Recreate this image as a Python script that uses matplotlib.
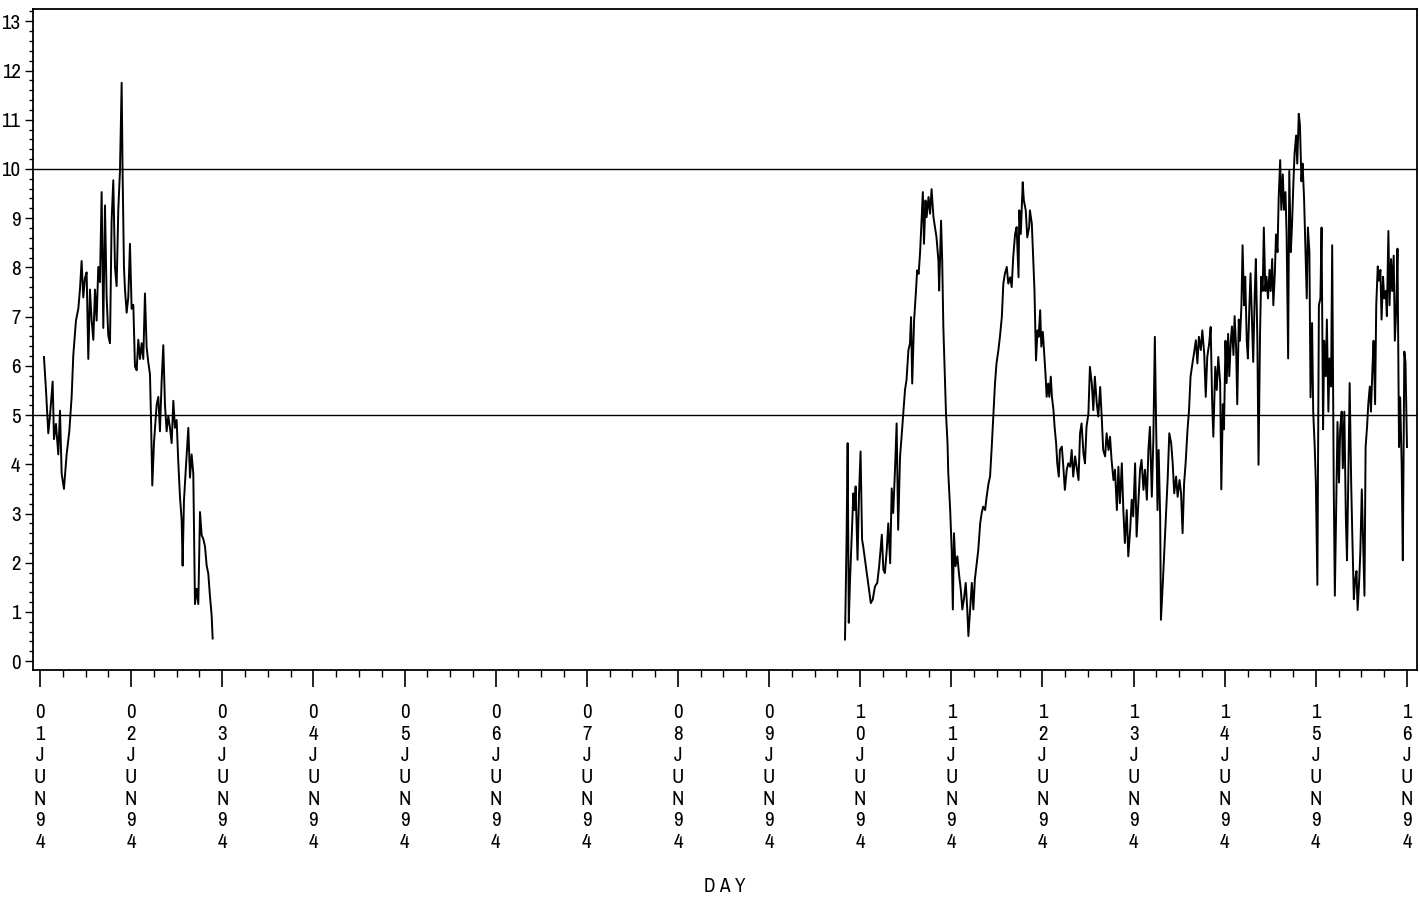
import numpy as np
import matplotlib
matplotlib.use("Agg")
import matplotlib.pyplot as plt
from matplotlib import font_manager
from matplotlib.ticker import MultipleLocator, FixedLocator

# ---------------- data (hours since 01JUN94 00:00, level) ----------------
hours_a = [1.05, 1.58, 2.19, 2.63, 3.34, 3.69, 4.21, 4.83, 5.27, 5.71, 6.32, 7.02, 7.73, 8.34, 8.78,
           9.48, 10.10, 10.53, 10.97, 11.41, 11.85, 12.29, 12.73, 13.17, 13.61, 14.05, 14.49, 14.92,
           15.36, 15.80, 16.24, 16.68, 17.12, 17.56, 18.00, 18.44, 18.87, 19.31, 19.75, 20.19, 20.63,
           21.07, 21.51, 21.77, 22.12, 22.39, 22.83, 23.26, 23.70, 24.14, 24.58, 25.02, 25.46, 25.90,
           26.34, 26.78, 27.21, 27.65, 28.09, 28.53, 28.97, 29.23, 29.58, 30.02, 30.73, 31.17, 31.60,
           32.04, 32.48, 32.92, 33.36, 33.80, 34.24, 34.68, 35.12, 35.56, 35.99, 36.43, 36.87, 37.31,
           37.57, 37.92, 38.45, 39.07, 39.51, 39.94, 40.38, 40.82, 41.26, 41.70, 42.14, 42.58, 43.02,
           43.46, 43.90, 44.33, 44.77, 45.21, 45.48]
level_a = [6.18, 5.52, 4.63, 4.98, 5.68, 4.51, 4.82, 4.20, 5.09, 3.81, 3.50, 4.20, 4.67, 5.37, 6.22,
           6.92, 7.16, 7.55, 8.13, 7.39, 7.78, 7.90, 6.14, 7.55, 6.92, 6.53, 7.55, 6.92,
           8.01, 7.70, 9.53, 6.77, 9.26, 7.39, 6.61, 6.46, 8.95, 9.77, 8.01, 7.62, 9.18,
           9.96, 11.75, 9.88, 8.01, 7.55, 7.08, 7.39, 8.48, 7.16, 7.24, 5.99, 5.91, 6.53,
           6.14, 6.46, 6.14, 7.47, 6.38, 6.07, 5.83, 4.98, 3.57, 4.43, 5.21, 5.37, 4.67,
           5.68, 6.42, 5.21, 4.67, 4.98, 4.74, 4.43, 5.29, 4.74, 4.90, 4.04, 3.34, 2.87,
           1.94, 3.26, 3.96, 4.74, 3.73, 4.20, 3.81, 1.16, 1.47, 1.16, 3.03, 2.56, 2.48,
           2.33, 1.94, 1.78, 1.32, 0.93, 0.46]

hours_b = [212.0, 212.4, 212.7, 213.0, 213.3, 213.8, 214.2, 214.5, 214.8, 215.3, 215.7, 216.1, 216.5,
           216.8, 217.5, 218.1, 218.8, 219.3, 219.9, 220.5, 221.0, 221.7, 222.1, 222.5, 223.0, 223.4,
           223.9, 224.3, 224.7, 225.2, 225.6, 226.0, 226.5, 226.9, 227.4, 227.8, 228.2, 228.7, 229.1,
           229.4, 229.7, 230.2, 230.7, 231.0, 231.4, 231.8, 232.2, 232.5, 232.8, 233.2, 233.5, 234.0,
           234.4, 234.8, 235.3, 235.7, 236.1, 236.6, 236.8, 237.3, 237.6, 237.9, 238.3, 238.6, 239.0,
           239.2, 239.7, 240.1, 240.4, 240.7, 241.1, 241.6, 242.0, 242.5, 242.9, 243.3, 243.8, 244.2,
           244.5, 244.9, 245.4, 245.8, 246.2, 246.7, 247.1, 247.6, 248.0, 248.4, 248.9, 249.3, 249.8,
           250.2, 250.6, 251.1, 251.5, 251.9, 252.4, 252.8, 253.3, 253.7, 254.1, 254.6, 255.0, 255.5,
           255.9, 256.3, 256.8, 257.2, 257.7, 257.9, 258.3, 258.8, 259.1, 259.6, 260.0, 260.5]
level_b = [0.44, 2.40, 4.43, 0.78, 1.59, 2.60, 3.41, 3.07, 3.55, 2.06, 3.41, 4.26, 2.47,
           2.33, 1.93, 1.59, 1.18, 1.25, 1.52, 1.59, 1.93, 2.57, 1.86, 1.79, 2.26, 2.80,
           1.99, 3.51, 3.01, 3.95, 4.83, 2.67, 4.16, 4.56, 5.10, 5.51, 5.71, 6.32, 6.45,
           6.99, 5.64, 6.93, 7.53, 7.94, 7.87, 8.34, 9.02, 9.53, 8.48, 9.36, 9.02, 9.43,
           9.09, 9.59, 9.02, 8.82, 8.61, 8.14, 7.53, 8.95, 8.14, 6.79, 5.78, 5.03, 4.43,
           3.82, 3.07, 2.26, 1.05, 2.60, 1.93, 2.13, 1.79, 1.45, 1.05, 1.25, 1.59, 1.05,
           0.51, 0.98, 1.59, 1.05, 1.66, 1.99, 2.26, 2.80, 3.01, 3.14, 3.07, 3.34, 3.61,
           3.75, 4.29, 5.03, 5.64, 6.05, 6.32, 6.59, 6.99, 7.67, 7.87, 8.01, 7.67, 7.80,
           7.60, 8.21, 8.68, 8.82, 7.80, 9.16, 8.68, 9.73, 9.36, 9.16, 8.61, 8.82]

hours_c = [260.7, 261.2, 261.6, 261.9, 262.1, 262.3, 262.7, 263.0, 263.4, 263.7, 264.1, 264.4, 264.8,
           265.1, 265.5, 265.8, 266.2, 266.5, 266.9, 267.2, 267.6, 267.9, 268.3, 268.6, 269.1, 269.5,
           269.9, 270.4, 270.8, 271.3, 271.7, 272.1, 272.6, 273.0, 273.5, 273.9, 274.3, 274.8, 275.2,
           275.6, 276.1, 276.5, 277.0, 277.4, 277.8, 278.3, 278.7, 279.2, 279.6, 280.0, 280.5, 280.9,
           281.4, 281.8, 282.2, 282.7, 283.1, 283.6, 284.0, 284.4, 284.9, 285.3, 285.7, 286.2, 286.6,
           287.1, 287.5, 287.9, 288.4, 288.8, 289.3, 289.7, 290.1, 290.6, 291.0, 291.5, 291.9, 292.3,
           292.8, 293.2, 293.6, 293.9, 294.3, 294.6, 295.0, 295.2, 295.7, 296.1, 296.5, 297.0, 297.4,
           297.9, 298.3, 298.7, 299.2, 299.6, 300.1, 300.5, 300.9, 301.3, 301.7, 302.2, 302.6, 303.0,
           303.5, 303.9, 304.4, 304.8, 305.2, 305.7, 306.1, 306.6, 307.0, 307.4, 307.9, 308.3, 308.7,
           309.0, 309.5, 309.9, 310.3]
level_c = [9.16, 8.89, 8.14, 7.53, 6.79, 6.11, 6.72, 6.59, 7.13, 6.39, 6.69, 6.32, 5.84,
           5.37, 5.64, 5.37, 5.78, 5.37, 5.10, 4.76, 4.43, 4.02, 3.75, 4.29, 4.36, 3.95,
           3.48, 3.89, 4.02, 3.95, 4.29, 3.75, 4.16, 3.95, 3.68, 4.63, 4.83, 4.22, 4.02,
           4.76, 5.03, 5.98, 5.64, 5.10, 5.78, 5.24, 4.97, 5.57, 4.97, 4.29, 4.16, 4.63,
           4.29, 4.56, 4.09, 3.68, 3.89, 3.07, 3.95, 3.21, 4.02, 3.07, 2.40, 3.07, 2.13,
           2.67, 3.28, 2.94, 4.02, 2.53, 3.28, 3.89, 4.09, 3.48, 3.89, 3.28, 4.29, 4.76,
           3.34, 4.49, 6.59, 4.97, 3.07, 4.29, 2.94, 0.84, 1.59, 2.26, 2.94, 3.75, 4.63,
           4.43, 4.02, 3.41, 3.75, 3.34, 3.68, 3.41, 2.60, 3.61, 4.02, 4.70, 5.10, 5.78,
           6.05, 6.25, 6.52, 6.05, 6.59, 6.32, 6.72, 6.25, 5.37, 6.18, 6.45, 6.79, 5.24,
           4.56, 5.98, 5.51, 6.18]

hours_d = [310.8, 311.1, 311.5, 311.8, 312.2, 312.5, 312.9, 313.2, 313.6, 313.9, 314.3, 314.6, 315.0,
           315.3, 315.7, 316.0, 316.4, 316.7, 317.1, 317.4, 317.8, 318.1, 318.5, 318.8, 319.2, 319.5,
           319.9, 320.2, 320.6, 320.9, 321.3, 321.6, 322.0, 322.3, 322.7, 323.0, 323.4, 323.8, 324.1,
           324.5, 324.8, 325.2, 325.5, 325.9, 326.2, 326.6, 326.9, 327.3, 327.6, 328.0, 328.3, 328.7,
           329.0, 329.4, 329.7, 330.1, 330.4, 330.8, 331.1, 331.5, 331.8, 332.2, 332.5, 332.9, 333.2,
           333.6, 333.9, 334.3, 334.6, 335.0, 335.3, 335.7, 336.0, 336.4]
level_d = [5.65, 3.49, 5.22, 4.71, 6.51, 5.65, 6.65, 5.79, 6.51, 6.80,
           6.22, 7.01, 6.37, 5.22, 6.94, 6.51, 7.23, 8.45, 7.23, 7.81,
           6.51, 6.15, 7.23, 7.88, 6.87, 6.08, 7.45, 8.17, 6.51, 3.99,
           6.65, 7.81, 7.52, 8.81, 7.52, 7.81, 7.37, 7.95, 7.52, 8.17,
           7.23, 7.88, 8.67, 8.31, 9.39, 10.18, 9.17, 9.89, 9.17, 9.53,
           8.67, 6.15, 9.96, 8.31, 8.81, 9.75, 10.32, 10.68, 10.11, 11.12,
           10.90, 9.75, 10.11, 9.39, 8.53, 7.37, 8.81, 8.31, 5.36, 6.87,
           5.07, 4.35, 3.63, 1.55]

hours_e = [336.8, 337.2, 337.5, 337.9, 338.2, 338.6, 338.9, 339.3, 339.6, 340.0, 340.3, 340.7, 341.0,
           341.4, 341.7, 342.1, 342.4, 342.8, 343.1, 343.5, 343.9, 344.2, 344.6, 344.9, 345.3, 345.6,
           346.0, 346.3, 346.7, 347.0, 347.4, 347.7, 348.1, 348.4, 348.8, 349.1, 349.5, 349.8, 350.2,
           350.5, 350.9, 351.2, 351.6, 351.9, 352.3, 352.6, 353.0, 353.3, 353.7, 354.0, 354.4, 354.7,
           355.1, 355.4, 355.8, 356.1, 356.5, 356.8, 357.2, 357.5, 357.9, 358.2, 358.6, 358.9, 359.3,
           359.6, 360.0]
level_e = [7.23, 7.37, 8.81, 4.71, 6.51, 5.79, 6.94, 5.07, 6.15, 5.58, 8.45, 3.63, 1.33,
           3.27, 4.86, 3.63, 4.71, 5.07, 3.92, 5.07, 2.91, 2.05, 3.99, 5.65, 3.63, 2.55,
           1.26, 1.62, 1.83, 1.04, 1.62, 2.19, 3.49, 2.55, 1.33, 4.35, 4.78, 5.22, 5.58,
           5.07, 5.94, 6.51, 5.22, 7.23, 8.02, 7.73, 7.95, 6.94, 7.81, 7.37, 7.52, 7.01,
           8.74, 7.23, 8.17, 7.52, 8.24, 6.51, 7.23, 8.38, 4.35, 5.36, 3.99, 2.05, 6.29,
           6.08, 4.35]

day_labels = ["01JUN94", "02JUN94", "03JUN94", "04JUN94", "05JUN94", "06JUN94", "07JUN94",
              "08JUN94", "09JUN94", "10JUN94", "11JUN94", "12JUN94", "13JUN94", "14JUN94",
              "15JUN94", "16JUN94"]
ref_levels = [5, 10]

# ---------------- font: prefer a narrow face if one is installed ----------------
narrow = None
for f in font_manager.fontManager.ttflist:
    n = f.name.lower()
    if ("narrow" in n or "condensed" in n) and "bold" not in f.style.lower() and f.weight in (400, "normal", "regular"):
        narrow = f.name
        break
if narrow is None:
    for f in font_manager.fontManager.ttflist:
        if f.stretch in ("condensed", "semi-condensed", "extra-condensed") and f.weight in (400, "normal"):
            narrow = f.name
            break
FONT = ([narrow] if narrow else []) + ["DejaVu Sans"]
plt.rcParams["font.family"] = FONT

fig = plt.figure(figsize=(14.2, 8.99), dpi=100)
ax = fig.add_axes([0.0232, 0.2547, 0.9747, 0.7353])

first = np.array(hours_a) / 24.0
second = np.array(hours_b + hours_c + hours_d + hours_e) / 24.0
ax.plot(first, level_a, color="black", lw=1.4)
ax.plot(second, level_b + level_c + level_d + level_e, color="black", lw=1.4)

for r in ref_levels:
    ax.axhline(r, color="black", lw=1.0)

ax.set_xlim(-0.077, 15.11)
ax.set_ylim(-0.18, 13.25)

ysize = 15 if narrow else 12
ax.yaxis.set_major_locator(MultipleLocator(1))
ax.yaxis.set_minor_locator(MultipleLocator(0.2))
ax.tick_params(axis="y", which="major", direction="out", length=6, width=1.0,
               labelsize=ysize, pad=3)
ax.tick_params(axis="y", which="minor", direction="out", length=3, width=1.0)

ax.xaxis.set_major_locator(FixedLocator(list(range(len(day_labels)))))
ax.xaxis.set_minor_locator(MultipleLocator(0.25))
ax.set_xticklabels(["\n".join(lbl) for lbl in day_labels], fontsize=15, linespacing=1.17)
ax.tick_params(axis="x", which="major", direction="out", length=12, width=1.2, pad=12)
ax.tick_params(axis="x", which="minor", direction="out", length=5, width=1.0)

for s in ax.spines.values():
    s.set_linewidth(1.3)

fig.text(0.5106, 1 - 887 / 899, "D A Y", ha="center", va="center", fontsize=14)

fig.savefig("out.png", dpi=100)
